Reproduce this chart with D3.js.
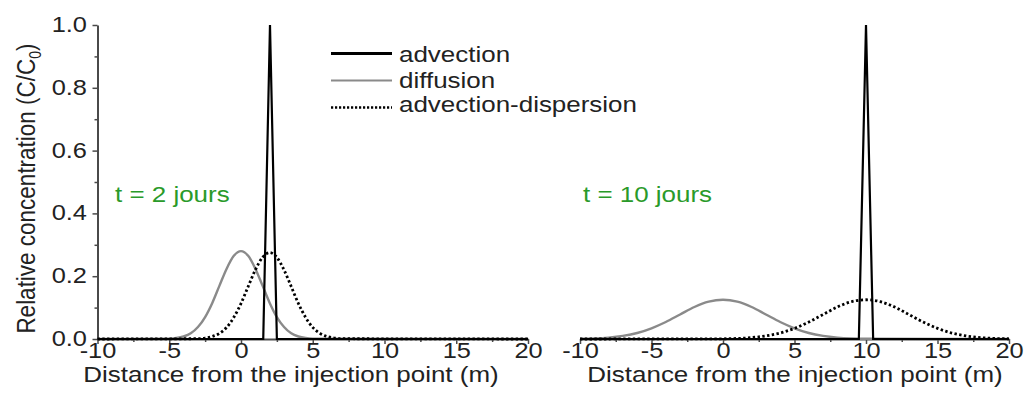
<!DOCTYPE html>
<html>
<head>
<meta charset="utf-8">
<script src="https://cdn.jsdelivr.net/npm/d3@7"></script>
<style>
  html, body { margin: 0; padding: 0; background: #fff; }
  svg { display: block; }
  text { font-family: "Liberation Sans", Arial, sans-serif; fill: #222; }
</style>
</head>
<body>
<svg id="chart" width="1024" height="397"></svg>
<script>
// Axis ticks
const distanceTicks = [-10, -5, 0, 5, 10, 15, 20];
const distanceMinor = [-7.5, -2.5, 2.5, 7.5, 12.5, 17.5];
const concTicks = [0, 0.2, 0.4, 0.6, 0.8, 1.0];
const concMinor = [0.1, 0.3, 0.5, 0.7, 0.9];

// t = 2 days
const diff2X = [-10, -5, -4.5, -4, -3.5, -3, -2.5, -2, -1.5, -1, -0.5, 0, 0.5, 1, 1.5, 2, 2.5, 3, 3.5, 4, 4.5, 5, 20];
const diff2C = [0, 0.001, 0.003, 0.008, 0.018, 0.038, 0.070, 0.115, 0.170, 0.224, 0.265, 0.280, 0.265, 0.224, 0.170, 0.115, 0.070, 0.038, 0.018, 0.008, 0.003, 0.001, 0];
const disp2X = [-10, -3, -2.5, -2, -1.5, -1, -0.5, 0, 0.5, 1, 1.5, 2, 2.5, 3, 3.5, 4, 4.5, 5, 5.5, 6, 6.5, 7, 20];
const disp2C = [0, 0.001, 0.003, 0.008, 0.018, 0.037, 0.069, 0.113, 0.167, 0.220, 0.260, 0.275, 0.260, 0.220, 0.167, 0.113, 0.069, 0.037, 0.018, 0.008, 0.003, 0.001, 0];
const adv2X = [-10, 1.55, 2.02, 2.5, 20];
const adv2C = [0, 0, 1, 0, 0];

// t = 10 days
const diff10X = [-10, -9, -8, -7, -6, -5, -4, -3, -2, -1, 0, 1, 2, 3, 4, 5, 6, 7, 8, 9, 10, 20];
const diff10C = [0.0007, 0.0018, 0.0045, 0.0098, 0.019, 0.034, 0.054, 0.078, 0.102, 0.119, 0.125, 0.119, 0.102, 0.078, 0.054, 0.034, 0.019, 0.0098, 0.0045, 0.0018, 0.0007, 0];
const disp10X = [-10, 0, 1, 2, 3, 4, 5, 6, 7, 8, 9, 10, 11, 12, 13, 14, 15, 16, 17, 18, 19, 20];
const disp10C = [0, 0.0007, 0.0018, 0.0045, 0.0098, 0.019, 0.034, 0.054, 0.078, 0.102, 0.119, 0.125, 0.119, 0.102, 0.078, 0.054, 0.034, 0.019, 0.0098, 0.0045, 0.0018, 0.0007];
const adv10X = [-10, 9.5, 10, 10.5, 20];
const adv10C = [0, 0, 1, 0, 0];

const seriesNames = ["advection", "diffusion", "advection-dispersion"];
const panelLabels = ["t = 2 jours", "t = 10 jours"];

const svg = d3.select("#chart");
const SX = 1.18;           // horizontal stretch of the lettering
const axisColor = "#4a4a4a";

const y = d3.scaleLinear().domain([0, 1]).range([339, 25]);

const styles = {
  advection: { stroke: "#000", width: 2.2, dash: null },
  diffusion: { stroke: "#8a8a8a", width: 2.4, dash: null },
  dispersion: { stroke: "#000", width: 2.8, dash: "2.4,2.4" }
};

function zip(xs, cs) { return xs.map((v, i) => ({ x: v, c: cs[i] })); }

function stretchText(sel) {
  sel.attr("transform", "scale(" + SX + ",1)");
}

// plain hyphen for negative numbers
const intFormat = d => String(d);

function drawPanel(opts, data) {
  const { x0, x1, withYAxis, label, titleX, labelX } = opts;
  const x = d3.scaleLinear().domain([-10, 20]).range([x0, x1]);
  const g = svg.append("g");

  // minor x ticks
  g.append("g")
    .attr("transform", `translate(0,${y(0)})`)
    .call(d3.axisBottom(x).tickValues(distanceMinor).tickSize(3).tickFormat(""))
    .call(a => a.select(".domain").remove())
    .call(a => a.selectAll("line").attr("stroke", axisColor).attr("stroke-width", 1.5));

  // major x ticks and labels
  const xa = g.append("g")
    .attr("transform", `translate(0,${y(0)})`)
    .call(d3.axisBottom(x).tickValues(distanceTicks).tickSize(5).tickSizeOuter(0).tickFormat(intFormat));
  xa.select(".domain").attr("stroke", axisColor).attr("stroke-width", 2);
  xa.selectAll("line").attr("stroke", axisColor).attr("stroke-width", 1.5);
  xa.selectAll("text")
    .attr("y", 19).attr("dy", null)
    .style("font-size", "21.5px").attr("fill", "#222")
    .call(stretchText);
  xa.attr("font-family", null).attr("font-size", null);

  // x axis title
  g.append("text")
    .attr("transform", `translate(${titleX},382) scale(${SX},1)`)
    .attr("text-anchor", "middle")
    .style("font-size", "22px")
    .text("Distance from the injection point (m)");

  if (withYAxis) {
    g.append("g")
      .attr("transform", `translate(${x0},0)`)
      .call(d3.axisLeft(y).tickValues(concMinor).tickSize(3).tickFormat(""))
      .call(a => a.select(".domain").remove())
      .call(a => a.selectAll("line").attr("stroke", axisColor).attr("stroke-width", 1.5));
    const ya = g.append("g")
      .attr("transform", `translate(${x0},0)`)
      .call(d3.axisLeft(y).tickValues(concTicks).tickSize(5).tickSizeOuter(0).tickFormat(d3.format(".1f")));
    ya.select(".domain").attr("stroke", axisColor).attr("stroke-width", 2);
    ya.selectAll("line").attr("stroke", axisColor).attr("stroke-width", 1.5);
    ya.selectAll("text")
      .attr("x", -9).attr("dy", "0.3em")
      .style("font-size", "21.5px").attr("fill", "#222")
      .call(stretchText);
    ya.attr("font-family", null).attr("font-size", null);

    const yt = g.append("text")
      .attr("transform", `translate(35,188.5) scale(${SX},1) rotate(-90)`)
      .attr("text-anchor", "middle")
      .style("font-size", "22.5px");
    yt.append("tspan").text("Relative concentration (C/C");
    yt.append("tspan").attr("dy", 5).style("font-size", "14px").text("0");
    yt.append("tspan").attr("dy", -5).text(")");
  }

  const line = d3.line().x(d => x(d.x)).y(d => y(d.c)).curve(d3.curveMonotoneX);
  const lineStraight = d3.line().x(d => x(d.x)).y(d => y(d.c));

  const draw = (pts, st, gen) => g.append("path")
    .attr("d", gen(pts))
    .attr("fill", "none")
    .attr("stroke", st.stroke)
    .attr("stroke-width", st.width)
    .attr("stroke-dasharray", st.dash)
    .attr("stroke-linejoin", "miter");

  draw(data.diffusion, styles.diffusion, line);
  draw(data.advection, styles.advection, lineStraight);
  draw(data.dispersion, styles.dispersion, line);

  g.append("text")
    .attr("transform", `translate(${labelX},201.5) scale(${SX},1)`)
    .style("font-size", "22px")
    .style("fill", "#2a9a2a")
    .text(label);
}

drawPanel({ x0: 97.5, x1: 528, withYAxis: true, label: panelLabels[0], titleX: 291, labelX: 115 }, {
  diffusion: zip(diff2X, diff2C),
  dispersion: zip(disp2X, disp2C),
  advection: zip(adv2X, adv2C)
});

drawPanel({ x0: 580, x1: 1009, withYAxis: false, label: panelLabels[1], titleX: 795, labelX: 583 }, {
  diffusion: zip(diff10X, diff10C),
  dispersion: zip(disp10X, disp10C),
  advection: zip(adv10X, adv10C)
});

// Legend
const legendRows = [
  { name: seriesNames[0], st: { stroke: "#000", width: 3, dash: null }, ly: 53.5, ty: 62 },
  { name: seriesNames[1], st: { stroke: "#8a8a8a", width: 2, dash: null }, ly: 80.5, ty: 88 },
  { name: seriesNames[2], st: { stroke: "#000", width: 2.4, dash: "2.2,1.8" }, ly: 107.5, ty: 112 }
];
const lg = svg.append("g");
legendRows.forEach(r => {
  lg.append("line")
    .attr("x1", 331).attr("x2", 392).attr("y1", r.ly).attr("y2", r.ly)
    .attr("stroke", r.st.stroke).attr("stroke-width", r.st.width)
    .attr("stroke-dasharray", r.st.dash);
  lg.append("text")
    .attr("transform", `translate(399,${r.ty}) scale(${SX},1)`)
    .style("font-size", "22px")
    .text(r.name);
});
</script>
</body>
</html>
